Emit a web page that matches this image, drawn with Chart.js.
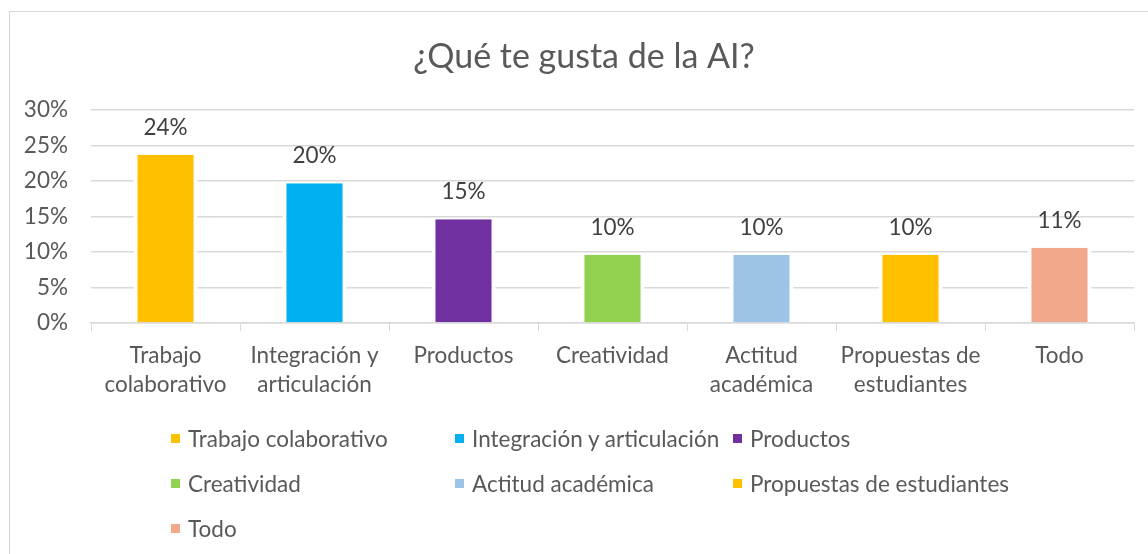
<!DOCTYPE html>
<html><head><meta charset="utf-8">
<script src="https://cdn.jsdelivr.net/npm/chart.js@4.4.1/dist/chart.umd.min.js"></script>
<style>
html,body{margin:0;padding:0;background:#fff;overflow:hidden}
#wrap{position:relative;width:1148px;height:554px}
#frame{position:absolute;left:9px;top:11px;width:1200px;height:600px;border:1.5px solid #d9d9d9;pointer-events:none}
canvas{position:absolute;left:0;top:0}
#legend{position:absolute;left:171px;top:416px;display:grid;grid-template-columns:284px 278px 300px;grid-auto-rows:45px;font:22.5px Lato;color:#595959}
#legend .it{display:flex;align-items:center;white-space:nowrap;height:45px}
#legend .bx{width:9px;height:9px;margin-right:8px;flex:none}
</style>
</head><body><div id="wrap"><canvas id="c" width="1148" height="554"></canvas><div id="frame"></div><div id="legend"></div></div>
<script>
const title = '¿Qué te gusta de la AI?';
const categories = ['Trabajo colaborativo','Integración y articulación','Productos','Creatividad','Actitud académica','Propuestas de estudiantes','Todo'];
const axisLabels = [['Trabajo','colaborativo'],['Integración y','articulación'],['Productos'],['Creatividad'],['Actitud','académica'],['Propuestas de','estudiantes'],['Todo']];
const values = [23.7, 19.7, 14.6, 9.6, 9.6, 9.6, 10.6];
const colors = ['#FFC000','#00B0F0','#7030A0','#92D050','#9DC3E6','#FFC000','#F2A98B'];
const yTicks = [0,5,10,15,20,25,30];

const FONT = 'Lato';
const TEXT = '#595959';

const titlePlugin = {
  id:'titleP',
  afterDraw(chart){
    const ctx=chart.ctx; ctx.save();
    ctx.font='34px '+FONT; ctx.fillStyle=TEXT; ctx.textAlign='center'; ctx.textBaseline='middle';
    ctx.fillText(title, 584, 57);
    ctx.restore();
  }
};
const labelPlugin = {
  id:'valLabels',
  afterDatasetsDraw(chart){
    const ctx=chart.ctx; ctx.save();
    ctx.font='22.5px '+FONT; ctx.fillStyle='#404040'; ctx.textAlign='center'; ctx.textBaseline='alphabetic';
    chart.getDatasetMeta(0).data.forEach((bar,i)=>{
      ctx.fillText(Math.round(values[i])+'%', bar.x, bar.y-20);
    });
    ctx.restore();
  }
};

new Chart(document.getElementById('c'),{
  type:'bar',
  data:{labels:axisLabels,datasets:[{data:values,backgroundColor:colors,borderColor:'#ffffff',borderWidth:{left:4,right:4,top:0,bottom:0},borderSkipped:false,categoryPercentage:1,barPercentage:0.43}]},
  options:{
    responsive:false,animation:false,devicePixelRatio:1,
    layout:{padding:{top:110,right:14,left:0,bottom:0}},
    plugins:{legend:{display:false},title:{display:false},tooltip:{enabled:false}},
    scales:{
      x:{
        grid:{drawOnChartArea:false,drawTicks:true,tickLength:8,color:'#d9d9d9',offset:true},
        border:{display:true,color:'#d9d9d9',width:1.5},
        ticks:{color:TEXT,font:{family:FONT,size:22.5,lineHeight:1.29},padding:10,maxRotation:0,autoSkip:false},
        afterFit(a){a.height=554-323;}
      },
      y:{
        min:0,max:30,
        afterBuildTicks(a){a.ticks=yTicks.map(v=>({value:v}));},
        grid:{color:'#d9d9d9',lineWidth:1.5,drawTicks:false},
        border:{display:false},
        ticks:{color:TEXT,font:{family:FONT,size:22.5},padding:23,callback:v=>v+'%'},
        afterFit(a){a.width=91;}
      }
    }
  },
  plugins:[titlePlugin,labelPlugin]
});

const lg=document.getElementById('legend');
categories.forEach((c,i)=>{
  const d=document.createElement('div');d.className='it';
  const b=document.createElement('span');b.className='bx';b.style.background=colors[i];
  const t=document.createElement('span');t.textContent=c;
  d.appendChild(b);d.appendChild(t);lg.appendChild(d);
});
</script></body></html>
